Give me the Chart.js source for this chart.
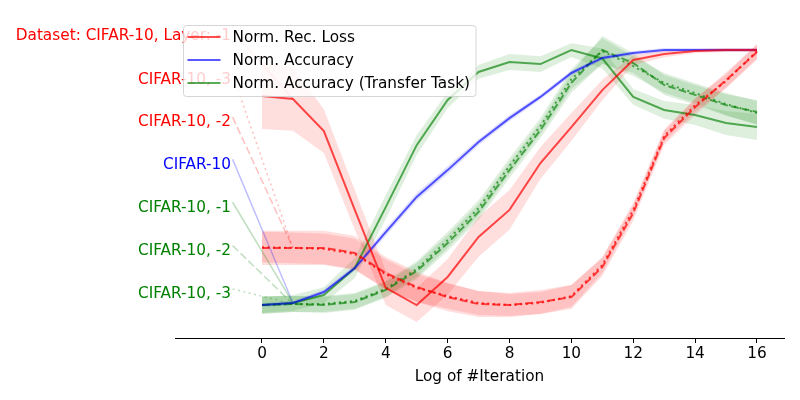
<!DOCTYPE html>
<html><head><meta charset="utf-8">
<script src="https://cdn.jsdelivr.net/npm/chart.js@4"></script>
<style>html,body{margin:0;padding:0;background:#fff}</style>
</head><body>
<canvas id="c" width="800" height="400"></canvas>
<script>
// ---------------- data ----------------
const iterations = [0,1,2,3,4,5,6,7,8,9,10,11,12,13,14,15,16];
const xTicks = [0,2,4,6,8,10,12,14,16];

const recLossL1    = [0.820,0.808,0.682,0.373,0.067,0.000,0.110,0.267,0.373,0.557,0.698,0.843,0.961,0.984,0.996,1.000,1.000];
const recLossL1Std = [0.130,0.125,0.086,0.078,0.067,0.067,0.070,0.078,0.078,0.063,0.055,0.040,0.020,0.012,0.008,0.008,0.008];
const recLossL2    = [0.224,0.224,0.224,0.204,0.125,0.071,0.031,0.004,0.000,0.012,0.031,0.149,0.361,0.655,0.776,0.882,0.992];
const recLossL2Std = [0.067,0.067,0.067,0.067,0.063,0.059,0.055,0.051,0.047,0.047,0.047,0.035,0.031,0.027,0.031,0.031,0.031];
const recLossL3    = [0.227,0.224,0.220,0.200,0.120,0.067,0.035,0.008,0.000,0.008,0.035,0.157,0.373,0.663,0.784,0.878,0.996];
const recLossL3Std = [0.060,0.060,0.060,0.060,0.058,0.055,0.050,0.047,0.043,0.043,0.043,0.031,0.027,0.025,0.027,0.027,0.027];
const accuracy     = [0.000,0.008,0.051,0.145,0.286,0.424,0.529,0.639,0.733,0.816,0.910,0.969,0.988,1.000,1.000,1.000,1.000];
const accuracyStd  = [0.008,0.008,0.010,0.012,0.015,0.015,0.015,0.012,0.012,0.010,0.010,0.008,0.008,0.008,0.008,0.008,0.008];
const transferL1    = [0.000,0.008,0.039,0.145,0.384,0.627,0.804,0.914,0.953,0.945,1.000,0.967,0.816,0.765,0.745,0.714,0.698];
const transferL1Std = [0.031,0.031,0.031,0.039,0.047,0.039,0.031,0.027,0.031,0.031,0.027,0.039,0.031,0.035,0.039,0.047,0.051];
const transferL2    = [0.000,0.004,0.000,0.012,0.059,0.133,0.243,0.365,0.529,0.686,0.871,1.000,0.949,0.863,0.824,0.784,0.757];
const transferL2Std = [0.035,0.031,0.031,0.031,0.031,0.031,0.031,0.031,0.031,0.031,0.039,0.055,0.039,0.039,0.039,0.043,0.047];
const transferL3    = [0.000,0.004,0.004,0.016,0.063,0.141,0.255,0.380,0.545,0.702,0.886,0.996,0.937,0.871,0.831,0.788,0.753];
const transferL3Std = [0.033,0.031,0.031,0.031,0.031,0.031,0.031,0.031,0.031,0.031,0.039,0.050,0.039,0.039,0.039,0.043,0.047];

const annotationTexts = ['Dataset: CIFAR-10, Layer: -1','CIFAR-10, -3','CIFAR-10, -2','CIFAR-10','CIFAR-10, -1','CIFAR-10, -2','CIFAR-10, -3'];
const annotationY = [1.059,0.889,0.722,0.556,0.388,0.218,0.048];
const annotationX = -1;
const legendLabels = ['Norm. Rec. Loss','Norm. Accuracy','Norm. Accuracy (Transfer Task)'];
const xTitle = 'Log of #Iteration';

// ---------------- styles ----------------
const FONT = 'DejaVu Sans';
const FS = 15.3;
const C = {
  red:   {line:'rgba(255,0,0,0.7)', fill:'rgba(255,0,0,0.13)', text:'rgb(255,0,0)', conn:'rgba(255,0,0,0.25)'},
  blue:  {line:'rgba(0,0,255,0.65)', fill:'rgba(0,0,255,0.12)', text:'rgb(0,0,255)', conn:'rgba(0,0,255,0.25)'},
  green: {line:'rgba(0,128,0,0.65)', fill:'rgba(0,128,0,0.13)', text:'rgb(0,128,0)', conn:'rgba(0,128,0,0.25)'}
};
const DASH = {solid:[], dashed:[7.7,3.3], dotted:[2.1,3.4]};

const series = [
  {mean:recLossL1, std:recLossL1Std, col:C.red,   dash:'solid',  ann:0},
  {mean:recLossL3, std:recLossL3Std, col:C.red,   dash:'dotted', ann:1},
  {mean:recLossL2, std:recLossL2Std, col:C.red,   dash:'dashed', ann:2},
  {mean:accuracy,  std:accuracyStd,  col:C.blue,  dash:'solid',  ann:3},
  {mean:transferL1,std:transferL1Std,col:C.green, dash:'solid',  ann:4},
  {mean:transferL2,std:transferL2Std,col:C.green, dash:'dashed', ann:5},
  {mean:transferL3,std:transferL3Std,col:C.green, dash:'dotted', ann:6}
];

const pts = arr => iterations.map((x,i)=>({x, y:arr[i]}));

const datasets = [];
series.forEach(s => {
  datasets.push({data: pts(s.mean.map((m,i)=>m+s.std[i])), borderWidth:0, pointRadius:0, fill:'+1', backgroundColor:s.col.fill, order:20});
  datasets.push({data: pts(s.mean.map((m,i)=>m-s.std[i])), borderWidth:0, pointRadius:0, fill:false, order:20});
});
series.forEach(s => {
  datasets.push({data:[{x:annotationX+0.05, y:annotationY[s.ann]+0.015},{x:1, y:s.mean[1]}],
    borderColor:s.col.conn, borderWidth:1.5, borderDash:DASH[s.dash], pointRadius:0, fill:false, order:10});
});
series.forEach(s => {
  datasets.push({data: pts(s.mean), borderColor:s.col.line, borderWidth:2, borderDash:DASH[s.dash], pointRadius:0, fill:false, order:0});
});

const annotationPlugin = {
  id:'annotations',
  afterDatasetsDraw(chart){
    const {ctx, scales:{x,y}} = chart;
    ctx.save();
    ctx.font = FS + 'px "' + FONT + '"';
    ctx.textAlign = 'right';
    ctx.textBaseline = 'middle';
    series.forEach(s => {
      ctx.fillStyle = s.col.text;
      ctx.fillText(annotationTexts[s.ann], x.getPixelForValue(annotationX), y.getPixelForValue(annotationY[s.ann]) + 1.5);
    });
    ctx.restore();
  }
};

const legendPlugin = {
  id:'mplLegend',
  afterDraw(chart){
    const {ctx, chartArea} = chart;
    const cols = [C.red.line, C.blue.line, C.green.line];
    ctx.save();
    ctx.font = FS + 'px "' + FONT + '"';
    const tw = Math.max(...legendLabels.map(t=>ctx.measureText(t).width));
    const bx = chartArea.left + 8.5, by = 25.5, bw = 49 + tw + 6, bh = 71;
    ctx.beginPath();
    ctx.roundRect(bx, by, bw, bh, 3);
    ctx.fillStyle = 'rgba(255,255,255,0.8)';
    ctx.fill();
    ctx.strokeStyle = 'rgba(204,204,204,0.8)';
    ctx.lineWidth = 1;
    ctx.stroke();
    legendLabels.forEach((t,i) => {
      const ry = by + 11.5 + i*23;
      ctx.beginPath();
      ctx.moveTo(bx + 4, ry);
      ctx.lineTo(bx + 37, ry);
      ctx.strokeStyle = cols[i];
      ctx.lineWidth = 2;
      ctx.stroke();
      ctx.fillStyle = '#000';
      ctx.textAlign = 'left';
      ctx.textBaseline = 'middle';
      ctx.fillText(t, bx + 49, ry + 1.5);
    });
    ctx.restore();
  }
};

new Chart(document.getElementById('c'), {
  type:'line',
  data:{datasets},
  plugins:[annotationPlugin, legendPlugin],
  options:{
    responsive:false, animation:false, devicePixelRatio:1,
    layout:{padding:{left:175, right:16, top:10, bottom:0}},
    plugins:{legend:{display:false}, tooltip:{enabled:false}, filler:{drawTime:'beforeDatasetsDraw'}},
    elements:{line:{tension:0, borderCapStyle:'butt'}},
    scales:{
      x:{type:'linear', min:-2.812, max:16.873,
        afterBuildTicks: s => { s.ticks = xTicks.map(v=>({value:v})); },
        afterFit: s => { s.height = 62; },
        grid:{display:true, drawOnChartArea:false, drawTicks:true, tickLength:5, color:'#000', tickColor:'#000'},
        border:{display:true, color:'#000', width:1},
        ticks:{color:'#000', font:{family:FONT, size:FS}, padding:2, maxRotation:0, autoSkip:false},
        title:{display:true, text:xTitle, color:'#000', font:{family:FONT, size:FS}, padding:{top:4, bottom:14}}
      },
      y:{display:false, min:-0.1294, max:1.157}
    }
  }
});
</script>
</body></html>
